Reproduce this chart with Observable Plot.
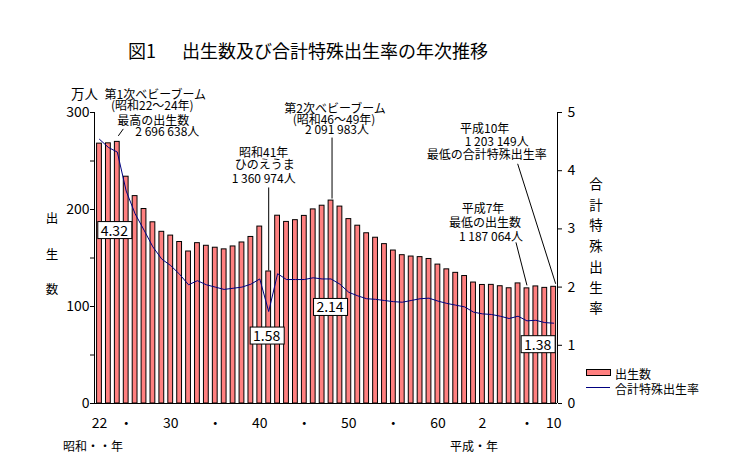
<!DOCTYPE html>
<html><head><meta charset="utf-8">
<script src="https://cdn.jsdelivr.net/npm/d3@7"></script>
<script src="https://cdn.jsdelivr.net/npm/@observablehq/plot@0.6"></script>
<style>
body{margin:0;background:#fff}
svg{font-family:"Noto Sans CJK JP",sans-serif}
</style>
</head><body><div id="chart"></div>
<script>
// ---- data ----
const years = [1947,1948,1949,1950,1951,1952,1953,1954,1955,1956,1957,1958,1959,1960,1961,1962,1963,1964,1965,1966,1967,1968,1969,1970,1971,1972,1973,1974,1975,1976,1977,1978,1979,1980,1981,1982,1983,1984,1985,1986,1987,1988,1989,1990,1991,1992,1993,1994,1995,1996,1997,1998];
// 出生数 (万人)
const births = [267.9,268.2,269.7,233.8,213.8,200.5,186.8,177.0,173.1,166.5,156.7,165.3,162.6,160.6,158.9,161.9,166.0,171.7,182.4,136.1,193.6,187.2,189.0,193.4,200.1,203.9,209.2,203.0,190.1,183.3,175.5,170.9,164.3,157.7,152.9,151.5,150.9,149.0,143.2,138.3,134.7,131.4,124.7,122.2,122.3,120.9,118.8,123.8,118.7,120.7,119.2,120.3];
// 合計特殊出生率
const tfr = [4.54,4.40,4.32,3.65,3.26,2.98,2.69,2.48,2.37,2.22,2.04,2.11,2.04,2.00,1.96,1.98,2.00,2.05,2.14,1.58,2.23,2.13,2.13,2.13,2.16,2.14,2.14,2.05,1.91,1.85,1.80,1.79,1.77,1.75,1.74,1.77,1.80,1.81,1.76,1.72,1.69,1.66,1.57,1.54,1.53,1.50,1.46,1.50,1.42,1.43,1.39,1.38];
const xTickYears  = [1947,1950,1955,1960,1965,1970,1975,1980,1985,1990,1995,1998];
const xTickLabels = ["22","・","30","・","40","・","50","・","60","2","・","10"];
const leftTicks = [0,50,100,150,200,250,300];
const rightTicks = [0,1,2,3,4,5];
const labelYears = [1949,1966,1973,1998];
const noteTexts = {
  boom1: ["第1次ベビーブーム","(昭和22～24年)","最高の出生数","2 696 638人"],
  hinoe: ["昭和41年","ひのえうま","1 360 974人"],
  boom2: ["第2次ベビーブーム","(昭和46～49年)","2 091 983人"],
  h10:   ["平成10年","1 203 149人","最低の合計特殊出生率"],
  h7:    ["平成7年","最低の出生数","1 187 064人"]
};

const data = years.map((year,i)=>({year, births:births[i], tfr:tfr[i]}));
const RATE = 300/5; // right axis scale factor
const xDomain = [1946.44, 1998.43];
const W=730, H=460, mL=94, mR=173, mT=112, mB=57;
const pxYear = (W-mL-mR)/(xDomain[1]-xDomain[0]);
const pxUnit = (H-mT-mB)/300;
const bOf = y => births[years.indexOf(y)];
const rOf = y => tfr[years.indexOf(y)];

function note(year, lines, offsets, leader){
  const v = bOf(year);
  const ms = lines.map((t,i)=>Plot.text([t],{x:()=>year,y:()=>v,text:d=>d,dx:offsets[i][0],dy:offsets[i][1],fontSize:12,fill:"black"}));
  if (leader){
    const [[a,b],[c,d]] = leader;
    ms.push(Plot.link([0],{x1:()=>year+a/pxYear,y1:()=>v-b/pxUnit,x2:()=>year+c/pxYear,y2:()=>v-d/pxUnit,stroke:"black",strokeWidth:1}));
  }
  return ms;
}
const boxOffsets = {1949:[-3,79],1966:[-2,25],1973:[-1,29],1998:[-16,22]};

const chart = Plot.plot({
  width:W, height:H, marginLeft:mL, marginRight:mR, marginTop:mT, marginBottom:mB,
  x:{domain:xDomain, axis:null, label:null},
  y:{domain:[0,300], axis:null, label:null},
  style:{fontFamily:'"Noto Sans CJK JP",sans-serif', fontSize:"14px", background:"#fff", color:"black"},
  marks:[
    Plot.rectY(data,{x1:d=>d.year-0.27, x2:d=>d.year+0.27, y:"births", fill:"#FF8080", stroke:"black", strokeWidth:1}),
    Plot.line(data,{x:"year", y:d=>d.tfr*RATE, stroke:"#000080", strokeWidth:1}),
    Plot.ruleX(xDomain,{y1:0,y2:300,stroke:"black"}),
    Plot.ruleY([0],{stroke:"black"}),
    Plot.axisY(leftTicks,{anchor:"left", label:null, tickSize:4, tickPadding:1, tickFormat:d=>d%100===0?String(d):"", fontSize:14}),
    Plot.axisY(rightTicks.map(d=>d*RATE),{anchor:"right", label:null, tickSize:4, tickPadding:6, tickFormat:d=>String(d/RATE), fontSize:14}),
    Plot.axisX(xTickYears,{anchor:"bottom", label:null, tickSize:0, tickPadding:15, tickFormat:d=>xTickLabels[xTickYears.indexOf(d)], fontSize:14}),
    ...note(1949, noteTexts.boom1, [[38,-47],[35,-36],[36,-21],[50,-10]], [[1,-6],[6,-13]]),
    ...note(1966, noteTexts.hinoe, [[-5,-118],[-4,-106],[-5,-92]], [[0,-84],[0,-1]]),
    ...note(1973, noteTexts.boom2, [[4,-91],[3,-80],[6,-70]], [[1,-63],[1,-2]]),
    ...note(1998, noteTexts.h10, [[-69,-158],[-57,-145],[-67,-132]], [[-36,-123],[2,-3]]),
    ...note(1995, noteTexts.h7, [[-44,-79],[-42,-65],[-36,-51]], [[-11,-46],[0,-3]]),
    ...labelYears.map(y=>Plot.text([y],{x:d=>d, y:d=>rOf(d)*RATE, text:d=>rOf(d).toFixed(2), dx:boxOffsets[y][0], dy:boxOffsets[y][1], fontSize:14, fill:"black"}))
  ]
});
document.getElementById("chart").appendChild(chart);

// boxes behind the rate labels
const svg = d3.select(chart);
const labelSet = new Set(labelYears.map(y=>rOf(y).toFixed(2)));
svg.selectAll('g[aria-label="text"] text').each(function(){
  if (!labelSet.has(this.textContent)) return;
  const bb = this.getBBox();
  const cx = bb.x+bb.width/2, cy = bb.y+bb.height/2;
  const t = this.getAttribute("transform");
  const r = document.createElementNS("http://www.w3.org/2000/svg","rect");
  r.setAttribute("x", Math.round(cx-17)+0.5); r.setAttribute("y", Math.round(cy-8.5)+0.5);
  r.setAttribute("width",34); r.setAttribute("height",17);
  r.setAttribute("fill","#fff"); r.setAttribute("stroke","black");
  if (t) r.setAttribute("transform", t);
  this.parentNode.insertBefore(r,this);
});

// static texts
const F='"Noto Sans CJK JP",sans-serif';
const add = (x,y,size,txt,anchor="start") => svg.append("text").attr("x",x).attr("y",y)
  .attr("text-anchor",anchor).attr("dominant-baseline","central").attr("font-size",size)
  .attr("font-family",F).attr("fill","black").text(txt);
add(128,50,18,"図1").append("tspan").attr("dx",26).text("出生数及び合計特殊出生率の年次推移");
add(71,93,13.5,"万人");
["出","生","数"].forEach((c,i)=>add(52,[217,253,288][i],12.5,c,"middle"));
"合計特殊出生率".split("").forEach((c,i)=>add(596,183+20.7*i,13.5,c,"middle"));
add(63,445,12,"昭和・・年");
add(450,445,12,"平成・年");
// legend
svg.append("rect").attr("x",586.5).attr("y",369.5).attr("width",24).attr("height",6).attr("fill","#FF8080").attr("stroke","black");
add(615,373,12,"出生数");
svg.append("line").attr("x1",586).attr("x2",610).attr("y1",387.5).attr("y2",387.5).attr("stroke","#000080");
add(615,388,12,"合計特殊出生率");
</script>
</body></html>
